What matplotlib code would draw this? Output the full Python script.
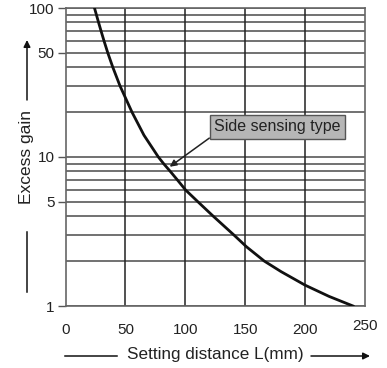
import matplotlib.pyplot as plt
import matplotlib.transforms as mtransforms
from matplotlib.ticker import FixedLocator, NullFormatter

plt.rcParams['font.family'] = ['Liberation Sans', 'DejaVu Sans']

# curve
distance = [24.2, 25.8, 27.6, 29.7, 32.2, 35.3, 39.5, 45.5, 55.5, 65.5, 77.5, 82,
            87.5, 93.5, 100.3, 110.6, 123.4, 140.5, 151, 166, 180, 200, 220, 240]
gain = [100, 90, 80, 70, 60, 50, 40, 30, 20, 14, 10, 9,
        8, 7, 6, 5, 4, 3, 2.5, 2, 1.7, 1.38, 1.16, 1.0]

x_ticks = [0, 50, 100, 150, 200, 250]
y_major = [1, 5, 10, 50, 100]
y_minor = [2, 3, 4, 6, 7, 8, 9, 20, 30, 40, 60, 70, 80, 90]
label_text = 'Side sensing type'
label_xy = (87, 8.6)
label_pos = (177, 15.9)

W, H = 387, 368
fig = plt.figure(figsize=(W / 100, H / 100), dpi=100)
ax = fig.add_axes([65.5 / W, 1 - 306 / H, 299.5 / W, 298 / H])

ax.set_xlim(0, 250)
ax.set_yscale('log')
ax.set_ylim(1, 100)

# grid
for v in y_major + y_minor:
    ax.axhline(v, color='#4a4a4a', lw=1.1, zorder=1)
for v in x_ticks[1:-1]:
    ax.axvline(v, color='#222222', lw=1.1, zorder=1)

ax.plot(distance, gain, color='#111111', lw=2.0, zorder=3,
        solid_joinstyle='round')

ax.set_xticks(x_ticks)
ax.set_xticklabels([str(v) for v in x_ticks])
ax.yaxis.set_major_locator(FixedLocator(y_major))
ax.set_yticklabels([str(v) for v in y_major])
ax.yaxis.set_minor_locator(FixedLocator(y_minor))
ax.yaxis.set_minor_formatter(NullFormatter())
ax.tick_params(axis='x', length=0, pad=12, labelsize=11, colors='#222222')
ax.tick_params(axis='y', which='major', length=6, width=1, pad=2, labelsize=11,
               color='#555555', labelcolor='#222222')
ax.tick_params(axis='y', which='minor', length=0)
for s in ax.spines.values():
    s.set_color('#666666')
    s.set_linewidth(1.2)

# the last x label sits a little higher in the original
last = ax.get_xticklabels()[-1]
last.set_transform(last.get_transform() +
                   mtransforms.ScaledTranslation(0, 4 / 100, fig.dpi_scale_trans))

ax.annotate(label_text, xy=label_xy, xytext=label_pos,
            ha='center', va='center', fontsize=11.5, color='#222222',
            bbox=dict(boxstyle='square,pad=0.28', fc='#b6b6b6', ec='#555555', lw=1),
            arrowprops=dict(arrowstyle='-|>', color='#222222', lw=1.1,
                            relpos=(0, 0), mutation_scale=10, shrinkA=0, shrinkB=0),
            zorder=5)

# axis titles with their lines and arrows (figure pixel coords)
def fpx(x, y):
    return (x / W, 1 - y / H)

fig.text(*fpx(27, 157), 'Excess gain', rotation=90, ha='center', va='center',
         fontsize=12.5, color='#222222')
fig.add_artist(plt.Line2D(*zip(fpx(27, 232), fpx(27, 292)), color='#111111', lw=1.1))
ax.annotate('', xy=fpx(27, 40), xytext=fpx(27, 100), xycoords='figure fraction',
            textcoords='figure fraction',
            arrowprops=dict(arrowstyle='-|>', color='#111111', lw=1.1,
                            mutation_scale=10, shrinkA=0, shrinkB=0))

fig.text(*fpx(215.5, 355), 'Setting distance L(mm)', ha='center', va='center',
         fontsize=12.3, color='#222222')
fig.add_artist(plt.Line2D(*zip(fpx(65, 356), fpx(117, 356)), color='#111111', lw=1.1))
ax.annotate('', xy=fpx(370, 356), xytext=fpx(311, 356), xycoords='figure fraction',
            textcoords='figure fraction',
            arrowprops=dict(arrowstyle='-|>', color='#111111', lw=1.1,
                            mutation_scale=10, shrinkA=0, shrinkB=0))

fig.savefig('out.png', dpi=100)
